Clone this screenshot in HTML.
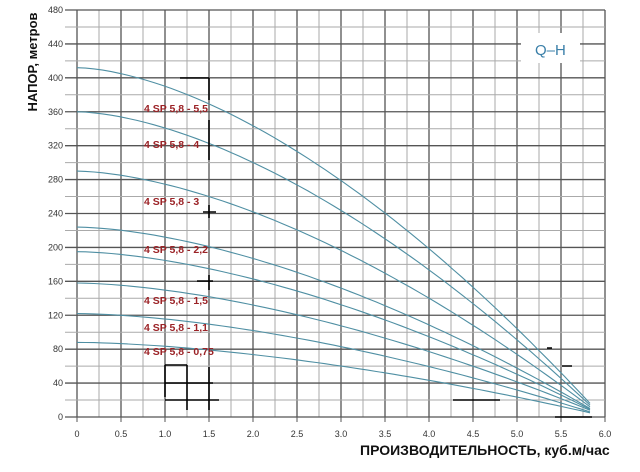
<!DOCTYPE html>
<html><head><meta charset="utf-8"><style>
html,body{margin:0;padding:0;background:#fff;}
svg{display:block;}
text{font-family:"Liberation Sans",sans-serif;}
</style></head><body>
<svg id="s" width="640" height="472" xmlns="http://www.w3.org/2000/svg">
<g id="grid"></g>
<g id="curves" fill="none" stroke="#4f8fa3" stroke-width="1.1"></g>
<g stroke="#000" stroke-width="1.6" fill="none">
<path d="M180 78H209M209 78V100M209 120V160M203 212H216M209 205V218M197 281H213M209 275V290"/>
<path d="M165 365H187M165 365V397M187 365V410M165 383H213M165 400H219M209 367V410"/>
<path d="M453 400H500M555 417H592M547 348H552M562 366H572"/>
</g>
<rect x="521" y="33" width="59" height="30" fill="#fff"/>
<text x="535" y="55" font-size="15" fill="#3a7fa8">Q–H</text>
<g font-size="10.5" font-weight="bold" fill="#9b2226">
<text x="144" y="112">4 SP 5,8 - 5,5</text>
<text x="144" y="148">4 SP 5,8 - 4</text>
<text x="144" y="205">4 SP 5,8 - 3</text>
<text x="144" y="253">4 SP 5,8 - 2,2</text>
<text x="144" y="304">4 SP 5,8 - 1,5</text>
<text x="144" y="331">4 SP 5,8 - 1,1</text>
<text x="144" y="355">4 SP 5,8 - 0,75</text>
</g>
<text transform="translate(37,62) rotate(-90)" text-anchor="middle" font-size="13" font-weight="bold" fill="#111">НАПОР, метров</text>
<text x="360" y="455" font-size="14" font-weight="bold" fill="#111">ПРОИЗВОДИТЕЛЬНОСТЬ, куб.м/час</text>
<g id="labels" font-size="9" fill="#333"></g>
</svg>
<script>
var X0=77,Y0=417,SX=88,SY=407/480,ns="http://www.w3.org/2000/svg";
function el(p,t,a,txt){var e=document.createElementNS(ns,t);for(var k in a)e.setAttribute(k,a[k]);if(txt!==undefined)e.textContent=txt;document.getElementById(p).appendChild(e);}
for(var i=0;i<=24;i++){var x=X0+i*SX/4;el("grid","line",{x1:x,x2:x,y1:10,y2:Y0,stroke:i%2?"#aaa":"#555","stroke-width":i%2?1:1.3});}
for(var j=0;j<=24;j++){var y=Y0-j*20*SY;el("grid","line",{x1:X0-12,x2:605,y1:y,y2:y,stroke:j%2?"#aaa":"#555","stroke-width":j%2?1:1.3});
 if(j%2==0) el("labels","text",{x:X0-14,y:y+3,"text-anchor":"end"},String(j*20));}
for(var i=0;i<=12;i++){var q=i*0.5;el("labels","text",{x:X0+q*SX,y:Y0+20,"text-anchor":"middle"},i==0?"0":q.toFixed(1));
 el("grid","line",{x1:X0+q*SX,x2:X0+q*SX,y1:Y0,y2:Y0+5,stroke:"#555"});}
var H=[412,360,290,224,195,158,122,88],E=[16,14,12,10,9,8,6,5];
for(var c=0;c<H.length;c++){var d="";for(var k=0;k<=60;k++){var Q=5.83*k/60,q=Q/5.83;var h=E[c]+(H[c]-E[c])*(1-Math.pow(q,1.64));d+=(k?"L":"M")+(X0+Q*SX).toFixed(1)+" "+(Y0-h*SY).toFixed(1);}
 el("curves","path",{d:d});}
</script>
</body></html>
